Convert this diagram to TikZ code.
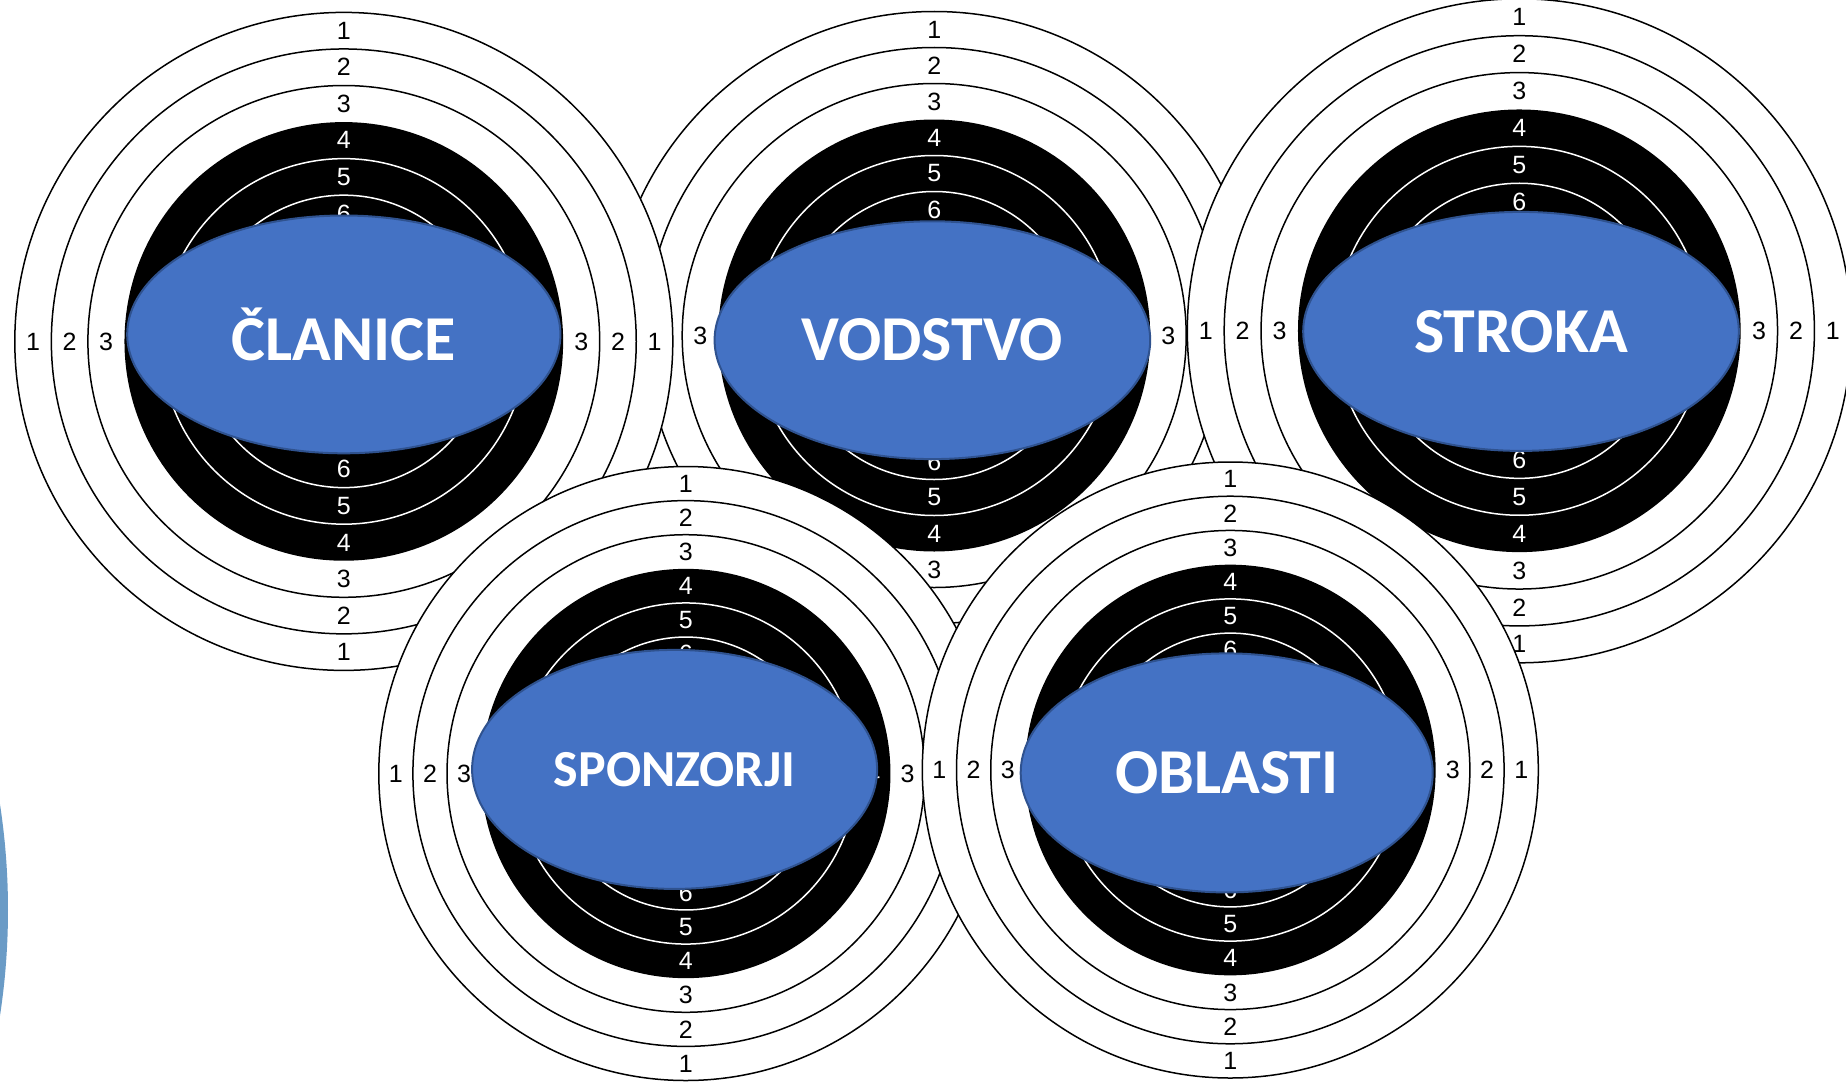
\documentclass[tikz,border=0pt]{standalone}
\usepackage{fontspec}
\setmainfont{Liberation Sans}
\newfontfamily\calibri{Carlito}
\usetikzlibrary{shapes.geometric}
\definecolor{tagblue}{HTML}{4472C4}
\definecolor{tagedge}{HTML}{2F528F}
\definecolor{sideblue}{HTML}{6A9BC6}

\begin{document}
\begin{tikzpicture}
[x=1pt,y=-1pt,%
  ring/.style={draw=black,line width=1.5pt},%
  inring/.style={draw=white,line width=1.5pt},%
  num/.style={inner sep=0pt,font=\fontsize{25}{25}\selectfont},%
  innum/.style={num,text=white},%
  tag/.style={shape=ellipse,fill=tagblue,draw=tagedge,line width=2pt,text=white,inner sep=0pt}]
\useasboundingbox (0,0) rectangle (1846,1081);
\fill[sideblue] (-685,910) circle (693);
\foreach \n/\x/\y/\r/\ex/\ey/\ea/\eb/\fs/\txt/\lft/\rgt in {%
    vodstvo/934.2/335.5/324/932.4/340.2/217.8/118.9/64/VODSTVO/{3}/{3},%
    clanice/343.8/341.4/329/343.8/334.4/216.6/118.9/64/ČLANICE/{1,2,3}/{1,2,3},%
    stroka/1519.3/330.8/332/1521/331.4/217.8/119.5/64/STROKA/{1,2,3}/{1,2,3},%
    sponzorji/685.8/773.5/307/674.6/769.4/202.5/119.5/52/SPONZORJI/{1,2,3}/{3},%
    oblasti/1230.3/770/308/1226.7/772.9/206/119.5/64/OBLASTI/{1,2,3}/{1,2,3}}
{
  \fill[white] (\x,\y) circle (\r);
  \foreach \k in {9,8,7}
    \draw[ring] (\x,\y) circle ({\k*\r/9});
  \fill[black] (\x,\y) circle ({6*\r/9});
  \foreach \k in {5,4}
    \draw[inring] (\x,\y) circle ({\k*\r/9});
  \foreach \k in {1,2,3} {
    \node[num] (\n-t\k) at (\x,{\y-(9.5-\k)*\r/9}) {\k};
    \node[num] (\n-b\k) at (\x,{\y+(9.5-\k)*\r/9}) {\k};
  }
  \foreach \k in \lft
    \node[num] (\n-l\k) at ({\x-(9.5-\k)*\r/9},\y) {\k};
  \foreach \k in \rgt
    \node[num] (\n-r\k) at ({\x+(9.5-\k)*\r/9},\y) {\k};
  \foreach \k in {4,5,6} {
    \node[innum] (\n-t\k) at (\x,{\y-(9.5-\k)*\r/9}) {\k};
    \node[innum] (\n-b\k) at (\x,{\y+(9.5-\k)*\r/9}) {\k};
  }
  \node[innum] (\n-l4) at ({\x-5.5*\r/9},\y) {4};
  \node[innum] (\n-r4) at ({\x+5.5*\r/9},\y) {4};
  \node[tag,minimum width=2*\ea,minimum height=2*\eb,
    font=\calibri\bfseries\fontsize{\fs}{\fs}\selectfont] (\n) at (\ex,\ey) {\txt};
}
\end{tikzpicture}
\end{document}
